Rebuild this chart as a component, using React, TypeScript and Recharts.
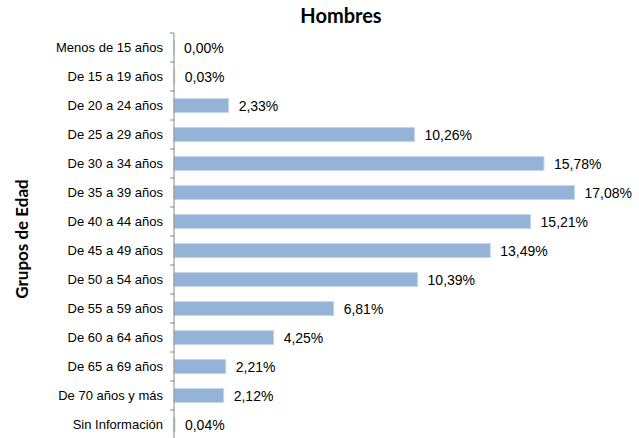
import { Bar, BarChart, LabelList, XAxis, YAxis } from 'recharts';

const categories = [
  'Menos de 15 años',
  'De 15 a 19 años',
  'De 20 a 24 años',
  'De 25 a 29 años',
  'De 30 a 34 años',
  'De 35 a 39 años',
  'De 40 a 44 años',
  'De 45 a 49 años',
  'De 50 a 54 años',
  'De 55 a 59 años',
  'De 60 a 64 años',
  'De 65 a 69 años',
  'De 70 años y más',
  'Sin Información',
];

const hombres = [0.0, 0.03, 2.33, 10.26, 15.78, 17.08, 15.21, 13.49, 10.39, 6.81, 4.25, 2.21, 2.12, 0.04];

const data = categories.map((name, i) => ({ name, value: hombres[i] }));

const CHART_W = 639;
const CHART_H = 460;
const MARGIN = { top: 33, right: 43, bottom: 21, left: 0 };
const BAND = (CHART_H - MARGIN.top - MARGIN.bottom) / categories.length;
const AXIS_COLOR = '#868686';

function formatPct(v: number): string {
  return `${Number(v).toFixed(2).replace('.', ',')}%`;
}

function CategoryTick(props: any) {
  const { x, y, payload, index } = props;
  const half = BAND / 2;
  return (
    <g>
      <text
        x={x - 11}
        y={y}
        dy="0.35em"
        textAnchor="end"
        fontSize={13}
        fill="#000"
        fontFamily="'Liberation Sans', Arial, sans-serif"
      >
        {payload.value}
      </text>
      <line x1={x - 4} x2={x} y1={y - half} y2={y - half} stroke={AXIS_COLOR} />
      {index === categories.length - 1 && (
        <line x1={x - 4} x2={x} y1={y + half} y2={y + half} stroke={AXIS_COLOR} />
      )}
    </g>
  );
}

export default function App() {
  return (
    <div
      style={{
        position: 'absolute',
        left: 0,
        top: 0,
        width: CHART_W,
        height: 438,
        overflow: 'hidden',
        background: '#fff',
      }}
    >
      <div
        style={{
          position: 'absolute',
          left: 241,
          top: 3,
          width: 200,
          textAlign: 'center',
          fontFamily: 'Lato, sans-serif',
          fontWeight: 700,
          fontSize: 20,
          color: '#000',
        }}
      >
        Hombres
      </div>
      <div
        style={{
          position: 'absolute',
          left: 21,
          top: 239,
          transform: 'translate(-50%, -50%) rotate(-90deg)',
          whiteSpace: 'nowrap',
          fontFamily: 'Lato, sans-serif',
          fontWeight: 700,
          fontSize: 17,
          color: '#000',
        }}
      >
        Grupos de Edad
      </div>
      <BarChart
        width={CHART_W}
        height={CHART_H}
        data={data}
        layout="vertical"
        margin={MARGIN}
        barCategoryGap="26%"
      >
        <XAxis type="number" domain={[0, 18]} hide />
        <Bar
          dataKey="value"
          fill="#95B3D7"
          stroke="#C5D6EB"
          strokeWidth={1}
          minPointSize={(v: any) => (Number(v) === 0 ? 0.01 : 0)}
          isAnimationActive={false}
        >
          <LabelList
            dataKey="value"
            position="right"
            offset={10}
            formatter={(v: any) => formatPct(v)}
            style={{ fontSize: 14, fill: '#000', fontFamily: "'Liberation Sans', Arial, sans-serif" }}
          />
        </Bar>
        <YAxis
          type="category"
          dataKey="name"
          width={174}
          interval={0}
          tickSize={0}
          tickMargin={0}
          tickLine={false}
          axisLine={{ stroke: AXIS_COLOR }}
          tick={<CategoryTick />}
        />
      </BarChart>
    </div>
  );
}
